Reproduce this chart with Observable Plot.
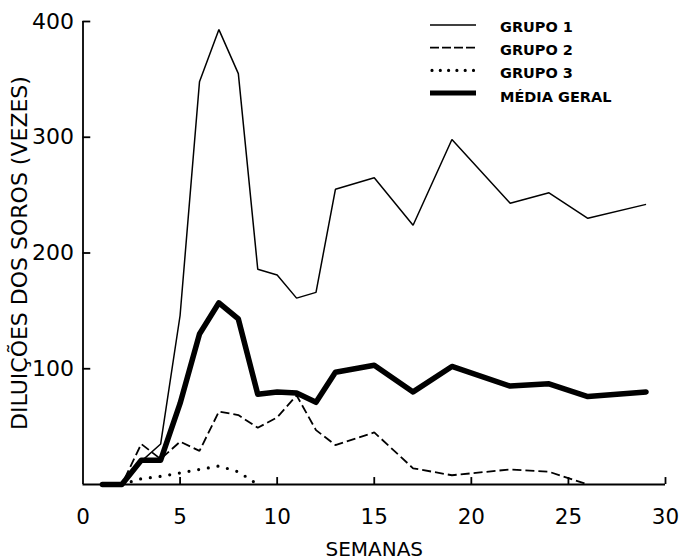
<!DOCTYPE html>
<html>
<head>
<meta charset="utf-8">
<script src="https://cdn.jsdelivr.net/npm/d3@7"></script>
<script src="https://cdn.jsdelivr.net/npm/@observablehq/plot@0.6"></script>
<style>
  body { margin: 0; background: #fff; }
  #chart { position: relative; width: 680px; height: 560px; }
  #legend { position: absolute; left: 0; top: 0; pointer-events: none; }
</style>
</head>
<body>
<div id="chart"></div>
<script>
// ---- Data ----
const semanasG1 = [1, 2, 3, 4, 5, 6, 7, 8, 9, 10, 11, 12, 13, 15, 17, 19, 22, 24, 26, 29];
const grupo1    = [0, 0, 20, 35, 146, 348, 393, 355, 186, 181, 161, 166, 255, 265, 224, 298, 243, 252, 230, 242];

const semanasG2 = [1, 2, 3, 4, 5, 6, 7, 8, 9, 10, 11, 12, 13, 15, 17, 19, 22, 24, 26];
const grupo2    = [0, 0, 35, 22, 37, 29, 63, 60, 49, 58, 77, 47, 34, 45, 14, 8, 13, 11, 0];

const semanasG3 = [2, 3, 4, 5, 6, 7, 8, 9];
const grupo3    = [0, 5, 7, 10, 13, 16, 11, 0];

const semanasMedia = [1, 2, 3, 4, 5, 6, 7, 8, 9, 10, 11, 12, 13, 15, 17, 19, 22, 24, 26, 29];
const mediaGeral   = [0, 0, 21, 21, 70, 130, 157, 143, 78, 80, 79, 71, 97, 103, 80, 102, 85, 87, 76, 80];

const xTicks = [0, 5, 10, 15, 20, 25, 30];
const yTicks = [100, 200, 300, 400];
const legendLabels = ["GRUPO 1", "GRUPO 2", "GRUPO 3", "MÉDIA GERAL"];
const xLabel = "SEMANAS";
const yLabel = "DILUIÇÕES DOS SOROS (VEZES)";

// ---- Build table ----
const toRows = (weeks, vals, grupo) => weeks.map((s, i) => ({semana: s, valor: vals[i], grupo}));
const g1 = toRows(semanasG1, grupo1, legendLabels[0]);
const g2 = toRows(semanasG2, grupo2, legendLabels[1]);
const g3 = toRows(semanasG3, grupo3, legendLabels[2]);
const gm = toRows(semanasMedia, mediaGeral, legendLabels[3]);

const styles = [
  {stroke: "#000", strokeWidth: 1.5, strokeDasharray: null, strokeLinecap: "butt"},
  {stroke: "#000", strokeWidth: 1.8, strokeDasharray: "9,4", strokeLinecap: "butt"},
  {stroke: "#000", strokeWidth: 3.2, strokeDasharray: "0,9.8", strokeLinecap: "round"},
  {stroke: "#000", strokeWidth: 5.5, strokeDasharray: null, strokeLinecap: "round"}
];
const legendDash = [null, "9,3", "0,8.3", null];

const font = "'DejaVu Sans', sans-serif";

const chart = Plot.plot({
  width: 680,
  height: 560,
  marginLeft: 82.5,
  marginRight: 15,
  marginTop: 21,
  marginBottom: 76,
  style: {fontFamily: font, fontSize: "22px", background: "#fff", color: "#000"},
  x: {domain: [0, 30]},
  y: {domain: [0, 400]},
  marks: [
    Plot.axisX({ticks: xTicks, tickSize: 0, tickPadding: 24, label: null, fontSize: 21.5}),
    Plot.axisY({ticks: yTicks, tickSize: 0, tickPadding: 9, label: null, fontSize: 22}),
    Plot.ruleX([0], {stroke: "#000", strokeWidth: 1.8}),
    Plot.ruleY([0], {stroke: "#000", strokeWidth: 1.8}),
    Plot.ruleY(yTicks, {y: d => d, x1: 0, x2: 0.4, stroke: "#000", strokeWidth: 1.8}),
    Plot.ruleX(xTicks.slice(1), {x: d => d, y1: 0, y2: 6, stroke: "#000", strokeWidth: 1.8}),
    Plot.line(g1, {x: "semana", y: "valor", ...styles[0], strokeLinejoin: "miter"}),
    Plot.line(g2, {x: "semana", y: "valor", ...styles[1], strokeLinejoin: "miter"}),
    Plot.line(g3, {x: "semana", y: "valor", ...styles[2]}),
    Plot.line(gm, {x: "semana", y: "valor", ...styles[3], strokeLinejoin: "round"}),
    Plot.text([xLabel], {frameAnchor: "bottom", dy: 65, lineAnchor: "middle", fontSize: 20, fill: "#000"}),
    Plot.text([yLabel], {frameAnchor: "left", dx: -63, rotate: -90, textAnchor: "middle", lineAnchor: "middle", fontSize: 22, fill: "#000"})
  ]
});

const container = document.getElementById("chart");
container.appendChild(chart);

// ---- Legend (inside the plot area, top right) ----
const leg = d3.select(container).append("svg")
  .attr("id", "legend").attr("width", 680).attr("height", 560);
legendLabels.forEach((lab, i) => {
  const st = styles[i];
  const ly = 25 + i * 22.7;
  leg.append("line")
    .attr("x1", i === 2 ? 432 : 430).attr("x2", 476)
    .attr("y1", ly).attr("y2", ly)
    .attr("stroke", st.stroke).attr("stroke-width", i === 3 ? 5 : st.strokeWidth)
    .attr("stroke-dasharray", legendDash[i])
    .attr("stroke-linecap", i === 2 ? "round" : "butt");
  leg.append("text")
    .attr("x", 500).attr("y", 27 + i * 23.1).attr("dy", "0.36em")
    .attr("font-family", font).attr("font-size", 14.5).attr("font-weight", "bold")
    .attr("fill", "#000")
    .text(lab);
});
</script>
</body>
</html>
